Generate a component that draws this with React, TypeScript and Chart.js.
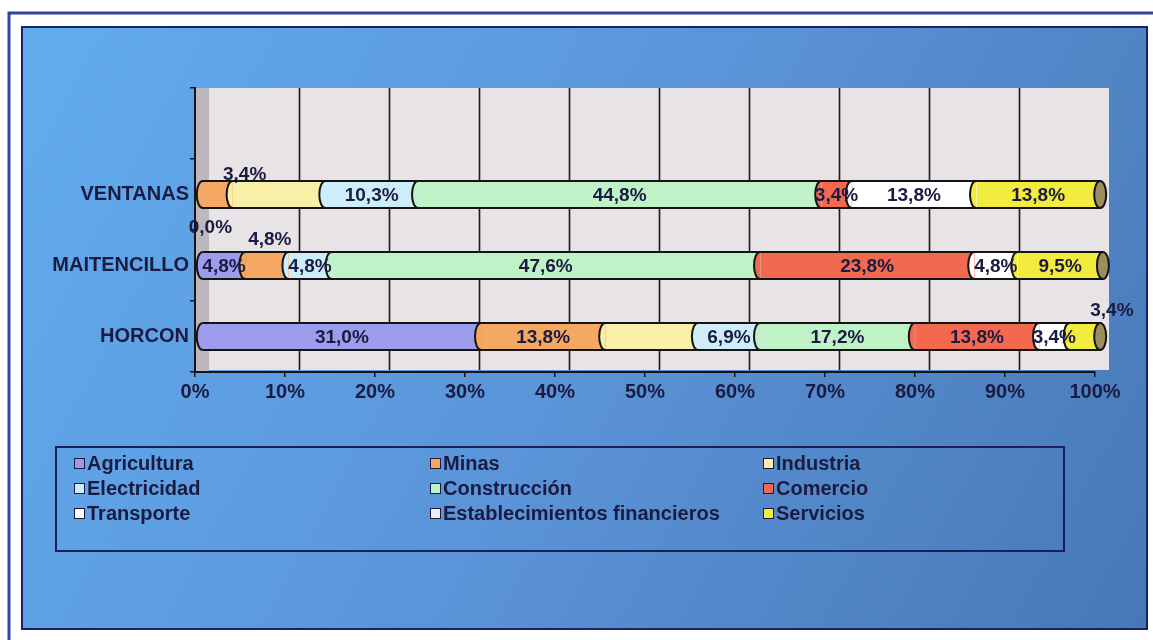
import React, { useEffect, useRef } from 'react';
import { Chart, registerables } from 'chart.js';

Chart.register(...registerables);

// ---------- DATA ----------
const categories = ['', 'VENTANAS', 'MAITENCILLO', 'HORCON'];
const sectors = [
  'Agricultura',
  'Minas',
  'Industria',
  'Electricidad',
  'Construcción',
  'Comercio',
  'Transporte',
  'Establecimientos financieros',
  'Servicios',
];
const agricultura = [null, 0.0, 4.8, 31.0];
const minas = [null, 3.4, 4.8, 13.8];
const industria = [null, 10.3, 0.0, 10.3];
const electricidad = [null, 10.3, 4.8, 6.9];
const construccion = [null, 44.8, 47.6, 17.2];
const comercio = [null, 3.4, 23.8, 13.8];
const transporte = [null, 13.8, 4.8, 3.4];
const financieros = [null, 0.0, 0.0, 0.0];
const servicios = [null, 13.8, 9.5, 3.4];
const xTickValues = [0, 10, 20, 30, 40, 50, 60, 70, 80, 90, 100];

// ---------- STYLE ----------
const seriesValues = [agricultura, minas, industria, electricidad, construccion, comercio, transporte, financieros, servicios];
const seriesColors = ['#9c9cec', '#f5a862', '#f7f0a6', '#cdeef8', '#bff2c6', '#f2694f', '#ffffff', '#eeeef8', '#f2ec3e'];
const capColor = '#9c8d5c';
const textColor = '#1b1b42';
const FONT = "'Liberation Sans', Arial, sans-serif";
const AXIS_SIZE = 20;
const LABEL_SIZE = 19;
const LEGEND_SIZE = 20;
const BAR_SHIFT = 7;
const WALL_SHIFT = 14;
const hiddenLabels = ['VENTANAS|Industria', 'HORCON|Industria'];
const labelOffsets: Record<string, [number, number]> = {
  'VENTANAS|Minas': [27, -20],
  'MAITENCILLO|Industria': [-78, -38],
  'MAITENCILLO|Minas': [3, -26],
  'HORCON|Servicios': [27, -26],
};

const fmt = (v: number) => v.toFixed(1).replace('.', ',') + '%';

const framePlugin = {
  id: 'frame',
  beforeDraw(chart: any) {
    const { ctx, chartArea, scales } = chart;
    const W = chart.width;
    const H = chart.height;
    ctx.save();
    ctx.fillStyle = '#ffffff';
    ctx.fillRect(0, 0, W, H);
    // outer border
    ctx.strokeStyle = '#34449c';
    ctx.lineWidth = 3;
    ctx.strokeRect(9, 13, W + 20, H + 20);
    // inner panel
    const g = ctx.createLinearGradient(22, 27, 1147, 629);
    g.addColorStop(0, '#62acf0');
    g.addColorStop(0.5, '#5b94d8');
    g.addColorStop(1, '#4778b6');
    ctx.fillStyle = g;
    ctx.fillRect(22, 27, 1125, 602);
    ctx.strokeStyle = '#1a2266';
    ctx.lineWidth = 2;
    ctx.strokeRect(22, 27, 1125, 602);

    const x = scales.x;
    const top = chartArea.top;
    const bottom = chartArea.bottom;
    // left wall
    ctx.fillStyle = '#bcb8bd';
    ctx.fillRect(chartArea.left, top, WALL_SHIFT, bottom - top);
    // back wall
    ctx.fillStyle = '#e7e3e6';
    ctx.fillRect(x.getPixelForValue(0) + WALL_SHIFT, top, x.getPixelForValue(100) - x.getPixelForValue(0), bottom - top - 2);
    // grid lines on back wall
    ctx.strokeStyle = '#1a1a1a';
    ctx.lineWidth = 1.6;
    xTickValues.forEach((v) => {
      if (v === 0 || v === 100) return;
      const px = Math.round(x.getPixelForValue(v) + WALL_SHIFT) + 0.5;
      ctx.beginPath();
      ctx.moveTo(px, top);
      ctx.lineTo(px, bottom - 2);
      ctx.stroke();
    });
    ctx.restore();
  },
  beforeDatasetsDraw(chart: any) {
    chart.ctx.save();
    chart.ctx.translate(BAR_SHIFT, 0);
  },
  afterDatasetsDraw(chart: any) {
    const { ctx } = chart;
    const rx = 6;
    for (let i = 1; i < categories.length; i++) {
      let startX: number | null = null;
      let endX = 0;
      let yc = 0;
      let hh = 0;
      seriesValues.forEach((vals, d) => {
        const el = chart.getDatasetMeta(d).data[i] as any;
        const v = vals[i];
        if (!el || v == null) return;
        const h = el.height;
        yc = el.y;
        hh = h;
        if (startX === null) startX = el.base;
        endX = Math.max(endX, el.x);
        if (v <= 0) return;
        ctx.beginPath();
        ctx.ellipse(el.base, el.y, rx, h / 2, 0, Math.PI / 2, (3 * Math.PI) / 2);
        ctx.closePath();
        ctx.fillStyle = seriesColors[d];
        ctx.fill();
        ctx.beginPath();
        ctx.ellipse(el.base, el.y, rx, h / 2, 0, Math.PI / 2, (3 * Math.PI) / 2);
        ctx.strokeStyle = '#141414';
        ctx.lineWidth = 2;
        ctx.stroke();
      });
      if (startX === null) continue;
      ctx.strokeStyle = '#141414';
      ctx.lineWidth = 2;
      ctx.beginPath();
      ctx.moveTo(startX, yc - hh / 2);
      ctx.lineTo(endX, yc - hh / 2);
      ctx.moveTo(startX, yc + hh / 2);
      ctx.lineTo(endX, yc + hh / 2);
      ctx.stroke();
      ctx.beginPath();
      ctx.ellipse(endX, yc, rx, hh / 2, 0, 0, Math.PI * 2);
      ctx.fillStyle = capColor;
      ctx.fill();
      ctx.stroke();
    }
    ctx.restore();

    // data labels
    ctx.save();
    ctx.font = `bold ${LABEL_SIZE}px ${FONT}`;
    ctx.fillStyle = textColor;
    ctx.textAlign = 'center';
    ctx.textBaseline = 'middle';
    for (let i = 1; i < categories.length; i++) {
      seriesValues.forEach((vals, d) => {
        const v = vals[i];
        const el = chart.getDatasetMeta(d).data[i] as any;
        if (!el || v == null) return;
        const key = categories[i] + '|' + sectors[d];
        if (hiddenLabels.includes(key)) return;
        const off = labelOffsets[key];
        if (v <= 0 && !off) return;
        const [dx, dy] = off || [0, 1];
        const cx = (el.base + el.x) / 2 + BAR_SHIFT + dx;
        ctx.fillText(fmt(v), cx, el.y + dy);
      });
    }
    ctx.restore();
  },
};

export default function App() {
  const ref = useRef<HTMLCanvasElement | null>(null);

  useEffect(() => {
    document.body.style.margin = '0';
    if (!ref.current) return;
    const chart = new Chart(ref.current, {
      type: 'bar',
      data: {
        labels: categories,
        datasets: sectors.map((s, d) => ({
          label: s,
          data: seriesValues[d] as any,
          backgroundColor: seriesColors[d],
          borderWidth: 0,
          barThickness: 27,
        })),
      },
      options: {
        indexAxis: 'y',
        responsive: false,
        animation: false,
        events: [],
        layout: { padding: { left: 0, right: 58, top: 88, bottom: 228 } },
        plugins: {
          legend: { display: false },
          tooltip: { enabled: false },
          title: { display: false },
        },
        scales: {
          x: {
            type: 'linear',
            stacked: true,
            min: 0,
            max: 100,
            afterBuildTicks: (scale: any) => {
              scale.ticks = xTickValues.map((v) => ({ value: v }));
            },
            afterFit: (scale: any) => {
              scale.height = 40;
            },
            ticks: {
              callback: (v: any) => v + '%',
              color: textColor,
              font: { family: FONT, size: AXIS_SIZE, weight: 'bold' },
              padding: 3,
              maxRotation: 0,
              autoSkip: false,
            },
            grid: { drawOnChartArea: false, drawTicks: true, tickLength: 5, color: '#151515', lineWidth: 1.5 },
            border: { display: true, color: '#151515', width: 2 },
          },
          y: {
            type: 'category',
            stacked: true,
            afterFit: (scale: any) => {
              scale.width = 195;
            },
            ticks: {
              color: textColor,
              font: { family: FONT, size: AXIS_SIZE, weight: 'bold' },
              padding: 1,
            },
            grid: { offset: true, drawOnChartArea: false, drawTicks: true, tickLength: 5, color: '#151515', lineWidth: 1.5 },
            border: { display: true, color: '#151515', width: 2 },
          },
        },
      } as any,
      plugins: [framePlugin],
    });
    return () => chart.destroy();
  }, []);

  const colLeft = [74, 430, 763];
  const rowTop = [452, 477, 502];

  return (
    <div style={{ position: 'relative', width: 1153, height: 640, overflow: 'hidden' }}>
      <canvas ref={ref} width={1153} height={640} style={{ position: 'absolute', left: 0, top: 0 }} />
      <div
        style={{
          position: 'absolute',
          left: 55,
          top: 446,
          width: 1010,
          height: 106,
          border: '2px solid #1a1f5a',
          boxSizing: 'border-box',
        }}
      />
      {sectors.map((s, d) => (
        <div
          key={s}
          style={{
            position: 'absolute',
            left: colLeft[d % 3],
            top: rowTop[Math.floor(d / 3)],
            display: 'flex',
            alignItems: 'center',
            font: `bold ${LEGEND_SIZE}px ${FONT}`,
            color: textColor,
            whiteSpace: 'nowrap',
            lineHeight: '22px',
          }}
        >
          <span
            style={{
              display: 'inline-block',
              width: 9,
              height: 9,
              border: '1.5px solid #1a1a40',
              background: seriesColors[d],
              marginRight: 2,
            }}
          />
          {s}
        </div>
      ))}
    </div>
  );
}
